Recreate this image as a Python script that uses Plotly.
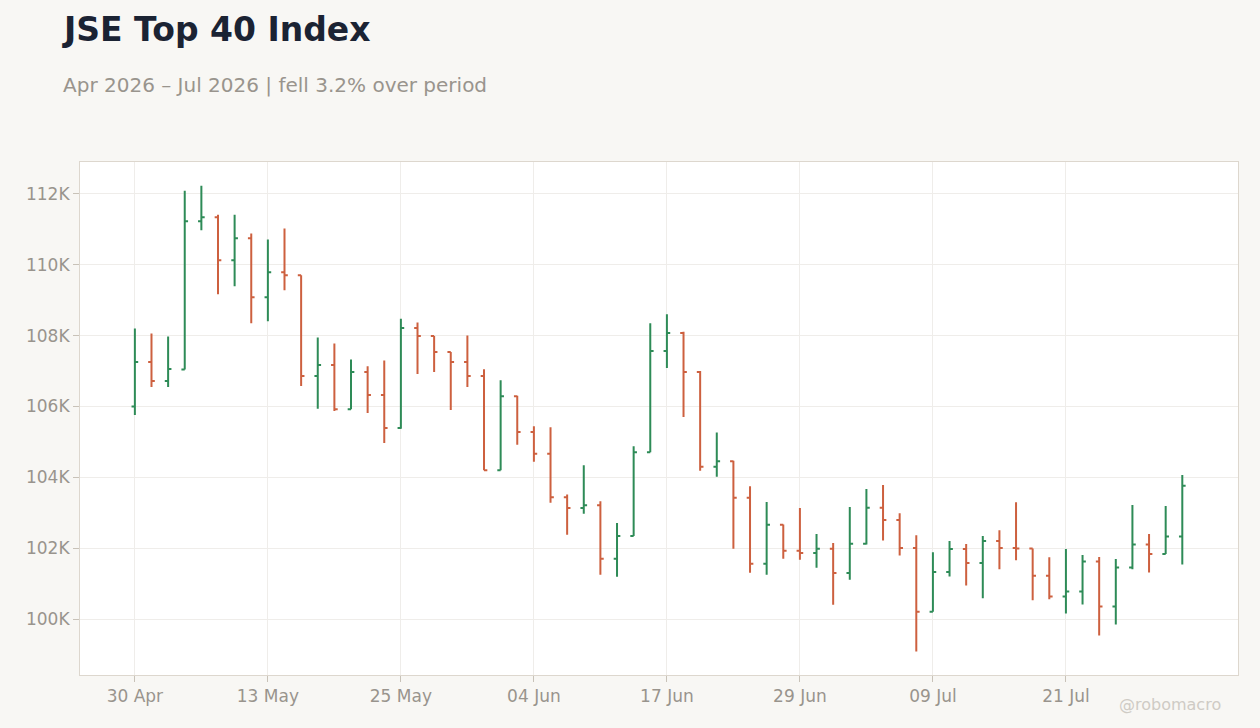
import plotly.graph_objects as go

# JSE Top 40 - Tageswerte (Handelstage, SA-Feiertage fehlen)
dates = [
    "2026-04-30",
    "2026-05-04", "2026-05-05", "2026-05-06", "2026-05-07", "2026-05-08",
    "2026-05-11", "2026-05-12", "2026-05-13", "2026-05-14", "2026-05-15",
    "2026-05-18", "2026-05-19", "2026-05-20", "2026-05-21", "2026-05-22",
    "2026-05-25", "2026-05-26", "2026-05-27", "2026-05-28", "2026-05-29",
    "2026-06-01", "2026-06-02", "2026-06-03", "2026-06-04", "2026-06-05",
    "2026-06-08", "2026-06-09", "2026-06-10", "2026-06-11", "2026-06-12",
    "2026-06-15", "2026-06-17", "2026-06-18", "2026-06-19",
    "2026-06-22", "2026-06-23", "2026-06-24", "2026-06-25", "2026-06-26",
    "2026-06-29", "2026-06-30", "2026-07-01", "2026-07-02", "2026-07-03",
    "2026-07-06", "2026-07-07", "2026-07-08", "2026-07-09", "2026-07-10",
    "2026-07-13", "2026-07-14", "2026-07-15", "2026-07-16", "2026-07-17",
    "2026-07-20", "2026-07-21", "2026-07-22", "2026-07-23", "2026-07-24",
    "2026-07-27", "2026-07-28", "2026-07-29", "2026-07-30",
]

open_ = [106003, 107253, 106717, 107046, 111229, 111342, 110129, 110750, 109086, 109791,
         109706, 106860, 107171, 105920, 106973, 106325, 105394, 108214, 107988, 107537,
         107255, 106860, 104202, 106289, 105283, 104663, 103441, 103131, 103215, 101702,
         102341, 104710, 107568, 108075, 106975, 104297, 104456, 103422, 101561, 102661,
         101928, 101862, 101984, 101298, 102125, 103140, 102797, 102007, 100202, 101330,
         101979, 101584, 102205, 102007, 101988, 101218, 100635, 100776, 101622, 100353,
         101453, 102101, 101836, 102327]
high = [108202, 108061, 107977, 112094, 112235, 111417, 111417, 110881, 110712, 111022,
        109706, 107951, 107782, 107330, 107133, 107302, 108477, 108374, 107988, 107537,
        108007, 107048, 106740, 106300, 105443, 105415, 103516, 104343, 103328, 102708,
        104879, 108348, 108602, 108113, 107004, 105265, 104465, 103751, 103300, 102670,
        103131, 102398, 102144, 103159, 103667, 103784, 102985, 102364, 101885, 102205,
        102120, 102346, 102505, 103295, 101988, 101744, 101979, 101810, 101753, 101697,
        103220, 102402, 103192, 104066]
low = [105758, 106548, 106548, 107046, 110975, 109171, 109396, 108353, 108409, 109283,
       106576, 105939, 105873, 105920, 105817, 104971, 105375, 106917, 106973, 105902,
       106550, 104200, 104202, 104917, 104437, 103281, 102379, 102971, 101251, 101194,
       102341, 104710, 107088, 105706, 104184, 104014, 101984, 101307, 101251, 101702,
       101674, 101448, 100405, 101110, 102100, 102214, 101791, 99084, 100202, 101199,
       100945, 100588, 101406, 101659, 100531, 100560, 100155, 100409, 99535, 99845,
       101406, 101312, 101836, 101537]
close = [107253, 106717, 107056, 111229, 111342, 110129, 110750, 109086, 109791, 109706,
         106858, 107171, 105920, 106973, 106325, 105394, 108214, 107988, 107537, 107255,
         106860, 104202, 106289, 105283, 104663, 103441, 103131, 103215, 101702, 102341,
         104710, 107568, 108075, 106975, 104297, 104456, 103422, 101561, 102661, 101928,
         101862, 101984, 101298, 102125, 103140, 102797, 102007, 100202, 101330, 101979,
         101584, 102205, 102007, 101988, 101218, 100635, 100776, 101622, 100353, 101453,
         102101, 101836, 102327, 103765]

x_tickvals = ["2026-04-30", "2026-05-13", "2026-05-25", "2026-06-04",
              "2026-06-17", "2026-06-29", "2026-07-09", "2026-07-21"]
x_ticktext = ["30 Apr", "13 May", "25 May", "04 Jun", "17 Jun", "29 Jun", "09 Jul", "21 Jul"]
y_tickvals = [100000, 102000, 104000, 106000, 108000, 110000, 112000]
y_ticktext = ["100K", "102K", "104K", "106K", "108K", "110K", "112K"]

fig = go.Figure(go.Ohlc(
    x=dates, open=open_, high=high, low=low, close=close,
    increasing=dict(line=dict(color="#2e8b57", width=2)),
    decreasing=dict(line=dict(color="#cd603f", width=2)),
    tickwidth=0.2,
    showlegend=False,
))

fig.update_xaxes(
    type="category", rangeslider_visible=False,
    range=[-3.3, 66.35],
    tickvals=x_tickvals, ticktext=x_ticktext,
    showgrid=True, gridcolor="#efedea",
    showline=True, linecolor="#ddd7ce", mirror=True,
    ticks="outside", ticklen=6, tickcolor="#c8c2b8",
    tickfont=dict(size=17, color="#99948d"),
)
fig.update_yaxes(
    range=[98419, 112903],
    tickvals=y_tickvals, ticktext=y_ticktext,
    showgrid=True, gridcolor="#efedea", zeroline=False,
    showline=True, linecolor="#ddd7ce", mirror=True,
    ticks="outside", ticklen=6, tickcolor="#c8c2b8",
    tickfont=dict(size=17, color="#99948d"),
)

fig.update_layout(
    width=1260, height=728,
    paper_bgcolor="#f8f7f4", plot_bgcolor="#ffffff",
    font=dict(family="DejaVu Sans", color="#99948d"),
    margin=dict(l=80, r=22, t=162, b=53),
    annotations=[
        dict(text="<b>JSE Top 40 Index</b>", xref="paper", yref="paper",
             x=-0.0173, y=1.259, xanchor="left", yanchor="middle", showarrow=False,
             font=dict(size=33, color="#1b2333")),
        dict(text="Apr 2026 – Jul 2026 | fell 3.2% over period", xref="paper", yref="paper",
             x=-0.0165, y=1.150, xanchor="left", yanchor="middle", showarrow=False,
             font=dict(size=20, color="#99948d")),
        dict(text="@robomacro", xref="paper", yref="paper",
             x=0.987, y=-0.058, xanchor="right", yanchor="middle", showarrow=False,
             font=dict(size=16, color="#cfcbc5")),
    ],
)

fig.write_html("out.html", config={"displayModeBar": False},
               post_script="document.body.style.margin='0';document.body.style.overflow='hidden';")
